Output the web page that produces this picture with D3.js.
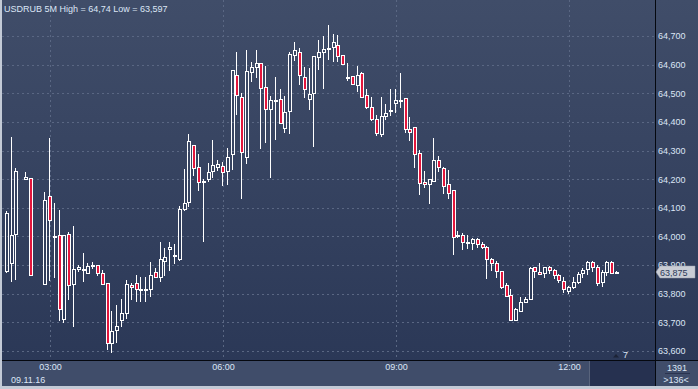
<!DOCTYPE html>
<html>
<head>
<meta charset="utf-8">
<script src="https://cdn.jsdelivr.net/npm/d3@7"></script>
<style>
  body { margin: 0; background: #404d6a; }
  svg { display: block; font-family: "Liberation Sans", Arial, sans-serif; }
</style>
</head>
<body>
<svg id="chart"></svg>
<script>
// USDRUB, 5 minute bars, starting 09.11.16 02:15 (null = no bar in that slot)
var symbol = "USDRUB 5M";
var dateLabel = "09.11.16";
var startTime = new Date(2016, 10, 9, 2, 15);

var opens = [63.878,63.907,64.008,null,64.201,64.204,null,null,63.834,64.141,
  64.003,64.006,63.711,64.010,63.834,63.887,63.887,63.872,63.898,63.901,
  63.872,63.838,63.627,63.674,63.707,63.732,63.830,63.838,63.816,63.816,
  63.816,63.876,63.860,63.913,63.956,63.934,63.923,64.096,64.120,64.320,
  64.243,64.190,64.201,64.228,64.244,64.247,64.230,64.287,64.563,64.486,
  64.277,64.576,64.591,64.607,64.521,64.444,64.477,64.481,64.378,64.437,
  64.633,64.643,64.558,64.479,64.500,64.628,64.643,64.657,64.663,64.669,
  64.633,64.558,64.560,64.529,64.572,64.493,64.453,64.410,64.357,64.422,
  64.442,64.465,64.477,64.483,64.374,64.381,64.293,64.189,64.182,64.194,
  64.266,64.238,64.182,64.161,64.005,64.004,63.982,63.978,63.991,63.972,
  63.964,63.920,63.908,63.879,63.830,63.795,63.708,63.741,63.770,63.780,
  63.892,63.877,63.873,63.892,63.882,63.864,63.843,63.810,63.824,63.840,
  63.871,63.885,63.910,63.892,63.840,63.875,63.910,63.875];
var highs = [64.090,64.348,64.239,null,64.225,64.204,null,null,64.156,64.345,
  64.118,64.093,64.004,64.014,64.038,63.899,63.942,63.907,63.910,63.901,
  63.884,63.838,63.740,63.761,63.782,63.849,63.839,63.866,63.860,63.860,
  63.910,63.889,63.980,63.959,63.980,63.973,64.105,64.237,64.359,64.320,
  64.289,64.202,64.257,64.338,64.267,64.259,64.309,64.580,64.644,64.500,
  64.651,64.610,64.651,64.607,64.595,64.490,64.556,64.514,64.491,64.643,
  64.678,64.657,64.593,64.587,64.629,64.686,64.700,64.740,64.707,64.703,
  64.633,64.605,64.560,64.595,64.576,64.515,64.486,64.424,64.486,64.463,
  64.515,64.515,64.572,64.483,64.416,64.381,64.302,64.229,64.200,64.344,
  64.281,64.244,64.232,64.161,64.019,64.011,64.005,63.996,63.996,63.982,
  63.967,63.926,63.915,63.879,63.836,63.815,63.749,63.787,63.790,63.894,
  63.894,63.906,63.894,63.897,63.886,63.869,63.857,63.828,63.857,63.877,
  63.889,63.915,63.915,63.899,63.883,63.913,63.913,63.880];
var lows = [63.875,63.846,63.851,null,64.201,63.866,null,null,63.834,63.849,
  63.857,63.709,63.700,63.782,63.689,63.881,63.846,63.872,63.889,63.864,
  63.835,63.606,63.597,63.633,63.686,63.715,63.781,63.773,63.776,63.773,
  63.793,63.858,63.845,63.864,63.884,63.907,63.919,64.093,64.105,64.216,
  64.161,63.983,64.193,64.208,64.233,64.178,64.183,64.234,64.428,64.136,
  64.258,64.544,64.558,64.308,64.331,64.206,64.340,64.395,64.366,64.363,
  64.616,64.533,64.488,64.444,64.317,64.584,64.520,64.619,64.614,64.614,
  64.601,64.547,64.531,64.509,64.486,64.448,64.407,64.355,64.352,64.410,
  64.424,64.436,64.453,64.366,64.337,64.244,64.148,64.171,64.116,64.192,
  64.230,64.153,64.133,63.939,63.999,63.956,63.959,63.957,63.964,63.959,
  63.856,63.883,63.859,63.819,63.793,63.708,63.708,63.741,63.770,63.780,
  63.857,63.868,63.859,63.871,63.856,63.840,63.806,63.803,63.819,63.836,
  63.859,63.869,63.880,63.830,63.828,63.865,63.871,63.872];
var closes = [64.082,64.006,64.230,null,64.208,63.866,null,null,64.128,64.059,
  64.003,63.746,64.004,63.830,63.886,63.893,63.887,63.898,63.901,63.872,
  63.835,63.627,63.670,63.687,63.732,63.834,63.823,63.816,63.816,63.816,
  63.866,63.858,63.921,63.928,63.964,63.934,64.097,64.117,64.334,64.239,
  64.190,64.195,64.225,64.250,64.252,64.224,64.278,64.580,64.493,64.294,
  64.578,64.593,64.605,64.517,64.444,64.476,64.477,64.395,64.434,64.637,
  64.650,64.563,64.514,64.497,64.629,64.643,64.653,64.657,64.678,64.630,
  64.601,64.558,64.531,64.563,64.488,64.451,64.410,64.360,64.419,64.430,
  64.442,64.477,64.477,64.374,64.364,64.287,64.186,64.183,64.200,64.266,
  64.241,64.176,64.151,63.999,64.005,63.982,63.982,63.990,63.972,63.964,
  63.920,63.906,63.880,63.824,63.793,63.708,63.746,63.770,63.780,63.889,
  63.880,63.868,63.892,63.883,63.864,63.847,63.815,63.822,63.840,63.869,
  63.883,63.911,63.892,63.836,63.876,63.910,63.871,63.875];

var yTickValues = [63.6, 63.7, 63.8, 63.9, 64.0, 64.1, 64.2, 64.3, 64.4, 64.5, 64.6, 64.7];
var lastPrice = 63.875;
var barCount = "1391";
var visibleCount = ">136<";
var markerCount = "7";

var W = 698, H = 389;
var plotRight = 655, plotBottom = 361;

var svg = d3.select("#chart").attr("width", W).attr("height", H);

var ru = d3.formatLocale({decimal: ",", thousands: " ", grouping: [3], currency: ["", ""]});
var fmt3 = ru.format(".3f");

// scales: 03:00 .. 12:00 spans 50 .. 569 px
var x = d3.scaleTime()
    .domain([new Date(2016, 10, 9, 3, 0), new Date(2016, 10, 9, 12, 0)])
    .range([50, 569]);
var y = d3.scaleLinear().domain([63.6, 64.7]).range([351, 36]);

var candles = opens.map(function(o, i) {
    if (o == null) return null;
    return {t: d3.timeMinute.offset(startTime, 5 * i), o: o, h: highs[i], l: lows[i], c: closes[i]};
}).filter(function(d) { return d; });

// backgrounds
var defs = svg.append("defs");
var grad = defs.append("linearGradient").attr("id", "bg")
    .attr("x1", 0).attr("y1", 0).attr("x2", 0).attr("y2", 1);
grad.append("stop").attr("offset", "0%").attr("stop-color", "#404d69");
grad.append("stop").attr("offset", "100%").attr("stop-color", "#2b3857");

svg.append("rect").attr("width", W).attr("height", H).attr("fill", "#c3cad6");
svg.append("rect").attr("x", 2).attr("width", W - 2).attr("height", 386).attr("fill", "#404d6a");
svg.append("rect").attr("x", 2).attr("width", W - 2).attr("height", plotBottom).attr("fill", "url(#bg)");
svg.append("rect").attr("x", 590).attr("y", plotBottom).attr("width", plotRight - 590).attr("height", 25)
    .attr("fill", "#263150");
svg.append("line").attr("x1", 589.5).attr("x2", 589.5).attr("y1", plotBottom).attr("y2", 386)
    .attr("stroke", "#59647c");

// grid
var grid = svg.append("g").attr("stroke", "#5a6783").attr("stroke-dasharray", "2,3")
    .attr("shape-rendering", "crispEdges");
grid.selectAll(".hg").data(yTickValues).enter().append("line")
    .attr("x1", 2).attr("x2", plotRight)
    .attr("y1", function(d) { return Math.round(y(d)) + 0.5; })
    .attr("y2", function(d) { return Math.round(y(d)) + 0.5; });
grid.selectAll(".vg").data(x.ticks(d3.timeHour.every(3))).enter().append("line")
    .attr("y1", 0).attr("y2", plotBottom)
    .attr("x1", function(d) { return Math.round(x(d)) + 0.5; })
    .attr("x2", function(d) { return Math.round(x(d)) + 0.5; });

// candles
var up = "#ffffff", down = "#e3163c";
var g = svg.append("g").attr("shape-rendering", "crispEdges");
var bars = g.selectAll(".c").data(candles).enter().append("g");

function cx(d) { return Math.round(x(d.t)); }
function bodyTop(d) { return Math.round(y(Math.max(d.o, d.c))) + 0.5; }
function bodyBot(d) { return Math.max(bodyTop(d) + 1, Math.round(y(Math.min(d.o, d.c))) + 0.5); }

bars.append("line")
    .attr("x1", function(d) { return cx(d) - 0.5; })
    .attr("x2", function(d) { return cx(d) - 0.5; })
    .attr("y1", function(d) { return Math.round(y(d.h)); })
    .attr("y2", bodyTop)
    .attr("stroke", up);
bars.append("line")
    .attr("x1", function(d) { return cx(d) - 0.5; })
    .attr("x2", function(d) { return cx(d) - 0.5; })
    .attr("y1", bodyBot)
    .attr("y2", function(d) { return Math.round(y(d.l)) + 1; })
    .attr("stroke", up);
bars.append("rect")
    .attr("x", function(d) { return cx(d) - 1.5; })
    .attr("width", 3)
    .attr("y", bodyTop)
    .attr("height", function(d) { return bodyBot(d) - bodyTop(d); })
    .attr("fill", function(d) { return d.c < d.o ? down : "none"; })
    .attr("stroke", up);

// frame lines
svg.append("line").attr("x1", plotRight + 0.5).attr("x2", plotRight + 0.5).attr("y1", 0).attr("y2", 386)
    .attr("stroke", "#05080f");
svg.append("line").attr("x1", 2).attr("x2", W).attr("y1", plotBottom - 0.5).attr("y2", plotBottom - 0.5)
    .attr("stroke", "#05080f");

var textColor = "#dce6f6";

// y axis labels
var yAxis = d3.axisRight(y).tickValues(yTickValues).tickSize(0).tickPadding(0).tickFormat(fmt3);
svg.append("g").attr("transform", "translate(658,0)").call(yAxis)
    .call(function(s) { s.select(".domain").remove(); })
    .selectAll("text").attr("fill", textColor).attr("font-size", 9)
    .attr("font-family", "Liberation Sans, Arial, sans-serif");

// x axis labels
var xAxis = d3.axisBottom(x).ticks(d3.timeHour.every(3)).tickSize(0).tickPadding(0)
    .tickFormat(d3.timeFormat("%H:%M"));
svg.append("g").attr("transform", "translate(0,364)").call(xAxis)
    .call(function(s) { s.select(".domain").remove(); })
    .selectAll("text").attr("fill", textColor).attr("font-size", 9).attr("dy", "0.72em")
    .attr("font-family", "Liberation Sans, Arial, sans-serif");

svg.append("text").attr("x", 11).attr("y", 383).attr("fill", textColor).attr("font-size", 9).text(dateLabel);

// title
svg.append("text").attr("x", 4).attr("y", 12).attr("fill", textColor).attr("font-size", 9)
    .text(symbol + " High = " + ru.format(".2f")(d3.max(highs)) + " Low = " + fmt3(d3.min(lows)));

// last price tag
var py = Math.round(y(lastPrice));
svg.append("path")
    .attr("d", "M656," + py + "L660," + (py - 6) + "H695V" + (py + 6) + "H660Z")
    .attr("fill", "#c9cdd5").attr("stroke", "#9aa1ae").attr("stroke-width", 0.5);
svg.append("text").attr("x", 660).attr("y", py + 3.5).attr("fill", "#2c3a58").attr("font-size", 9)
    .text(fmt3(lastPrice));

// marker count
svg.append("path").attr("d", "M613,357.5L616,354L619,357.5Z").attr("fill", "#1c2336");
svg.append("text").attr("x", 623).attr("y", 358).attr("fill", textColor).attr("font-size", 9).text(markerCount);

// bar counters
svg.append("text").attr("x", 677).attr("y", 371).attr("text-anchor", "middle").attr("fill", textColor)
    .attr("font-size", 9).text(barCount);
svg.append("line").attr("x1", 665).attr("x2", 690).attr("y1", 373.5).attr("y2", 373.5).attr("stroke", "#2a3450");
svg.append("text").attr("x", 676).attr("y", 383).attr("text-anchor", "middle").attr("fill", textColor)
    .attr("font-size", 9).text(visibleCount);
</script>
</body>
</html>
